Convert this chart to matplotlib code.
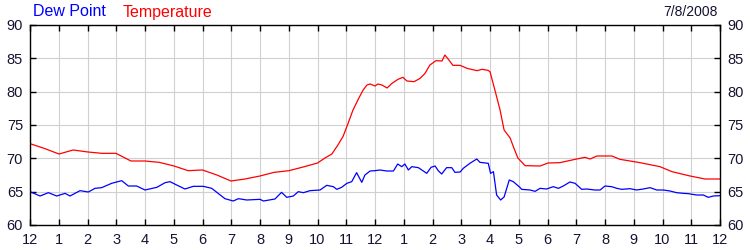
import matplotlib
matplotlib.use("Agg")
import matplotlib.pyplot as plt

# hours since midnight, 7/8/2008
temp_hours = [0, 0.49, 1.01, 1.5, 2.02, 2.5, 2.99, 3.51, 4.0, 4.49, 5.01, 5.5, 6.0, 6.5,
              6.99, 7.48, 8.0, 8.49, 9.01, 9.5, 10.0, 10.26, 10.5, 10.71, 10.89, 11.06,
              11.23, 11.41, 11.58, 11.72, 11.83, 12.0, 12.1, 12.24, 12.42, 12.59, 12.8,
              12.97, 13.11, 13.36, 13.57, 13.74, 13.91, 14.12, 14.33, 14.43, 14.57, 14.71,
              14.96, 15.2, 15.55, 15.72, 15.93, 16.0, 16.17, 16.35, 16.49, 16.7, 16.83,
              16.97, 17.22, 17.74, 18.02, 18.43, 18.96, 19.3, 19.48, 19.72, 20.24, 20.52,
              21.22, 21.91, 22.33, 22.96, 23.48, 24.0]
temperature = [72.2, 71.5, 70.65, 71.25, 70.95, 70.75, 70.75, 69.6, 69.6, 69.4, 68.85, 68.15,
               68.25, 67.5, 66.6, 66.9, 67.35, 67.9, 68.15, 68.7, 69.3, 70.05, 70.65, 72.0,
               73.3, 75.2, 77.2, 78.8, 80.2, 81.0, 81.15, 80.85, 81.15, 81.0, 80.55, 81.25,
               81.85, 82.15, 81.6, 81.5, 82.0, 82.75, 84.0, 84.65, 84.6, 85.5, 84.75, 83.95,
               83.95, 83.5, 83.15, 83.35, 83.2, 83.0, 80.25, 77.25, 74.25, 73.05, 71.55,
               70.05, 68.9, 68.85, 69.3, 69.35, 69.85, 70.15, 69.9, 70.35, 70.35, 69.85,
               69.35, 68.75, 68.0, 67.35, 66.9, 66.9]

dew_hours = [0, 0.35, 0.64, 0.93, 1.22, 1.39, 1.74, 2.03, 2.26, 2.49, 2.84, 3.19, 3.42, 3.71,
             4.0, 4.41, 4.7, 4.87, 5.1, 5.39, 5.68, 6.03, 6.32, 6.78, 7.07, 7.25, 7.54, 8.0,
             8.12, 8.52, 8.75, 8.93, 9.16, 9.33, 9.51, 9.74, 10.09, 10.32, 10.55, 10.67,
             10.84, 11.02, 11.19, 11.36, 11.54, 11.65, 11.83, 12.0, 12.17, 12.41, 12.64,
             12.79, 12.93, 13.04, 13.16, 13.28, 13.51, 13.8, 13.95, 14.09, 14.2, 14.32,
             14.49, 14.67, 14.78, 14.96, 15.07, 15.3, 15.54, 15.65, 15.94, 16.02, 16.12,
             16.23, 16.37, 16.49, 16.67, 16.81, 17.04, 17.1, 17.39, 17.57, 17.74, 17.97,
             18.2, 18.38, 18.55, 18.78, 18.96, 19.19, 19.36, 19.65, 19.83, 20.0, 20.23,
             20.41, 20.58, 20.87, 21.1, 21.33, 21.57, 21.8, 22.03, 22.26, 22.49, 22.72,
             22.9, 23.19, 23.42, 23.59, 23.77, 24.0]
dew_point = [65.0, 64.35, 64.85, 64.35, 64.75, 64.35, 65.15, 64.95, 65.5, 65.6, 66.25, 66.65,
             65.85, 65.85, 65.25, 65.65, 66.35, 66.5, 66.0, 65.4, 65.8, 65.8, 65.5, 63.95,
             63.6, 63.95, 63.75, 63.85, 63.6, 63.9, 64.9, 64.15, 64.35, 65.0, 64.85, 65.15,
             65.25, 65.95, 65.75, 65.35, 65.65, 66.25, 66.5, 67.85, 66.4, 67.5, 68.1, 68.15,
             68.25, 68.1, 68.1, 69.15, 68.75, 69.15, 68.25, 68.75, 68.6, 67.75, 68.65, 68.85,
             68.15, 67.65, 68.6, 68.6, 67.9, 67.95, 68.5, 69.25, 69.9, 69.4, 69.25, 67.75,
             68.0, 64.5, 63.75, 64.2, 66.75, 66.5, 65.65, 65.35, 65.25, 65.05, 65.5, 65.4,
             65.75, 65.5, 65.85, 66.45, 66.25, 65.35, 65.4, 65.25, 65.25, 65.85, 65.75, 65.5,
             65.35, 65.45, 65.25, 65.4, 65.6, 65.25, 65.25, 65.1, 64.85, 64.75, 64.7, 64.5,
             64.5, 64.15, 64.35, 64.4]

hour_labels = ["12"] + [str(h) for h in range(1, 12)] + ["12"] + [str(h) for h in range(1, 12)] + ["12"]
y_ticks = [60, 65, 70, 75, 80, 85, 90]
date_text = "7/8/2008"

plt.rcParams["font.family"] = ["Liberation Sans", "DejaVu Sans"]
label_color = "#141432"

fig = plt.figure(figsize=(7.5, 2.5), dpi=100)
ax = fig.add_axes([0.04, 0.1, 0.92, 0.8])

ax.plot(dew_hours, dew_point, color="#0000ff", lw=0.9)
ax.plot(temp_hours, temperature, color="#ff0000", lw=0.9)

ax.set_xlim(0, 24)
ax.set_ylim(60, 90)
ax.set_xticks(range(25))
ax.set_xticklabels(hour_labels)
ax.set_yticks(y_ticks)
ax.grid(True, color="#d0d0d0", lw=0.8)
ax.set_axisbelow(True)
for s in ax.spines.values():
    s.set_color("black")
    s.set_linewidth(1.0)
ax.tick_params(axis="both", direction="in", length=4, width=1, colors="black",
               labelcolor=label_color, labelsize=10.5,
               top=True, right=True, labelright=True)
ax.tick_params(axis="x", pad=6)
ax.tick_params(axis="y", pad=5)

fig.text(33 / 750, 1 - 12 / 250, "Dew Point", color="#0000ff", fontsize=11.5, va="center")
fig.text(123 / 750, 1 - 12 / 250, "Temperature", color="#ff0000", fontsize=11.5, va="center")
fig.text(718 / 750, 1 - 12 / 250, date_text, color=label_color, fontsize=10, va="center", ha="right")

fig.savefig("out.png", dpi=100)
